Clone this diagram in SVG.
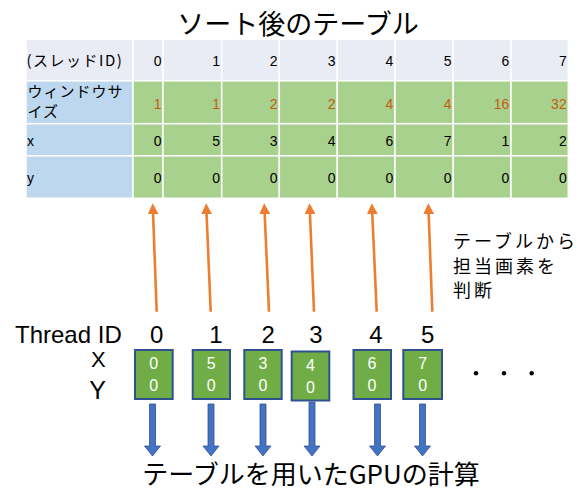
<svg xmlns="http://www.w3.org/2000/svg" width="583" height="492" viewBox="0 0 583 492">
<style>
.jp{font-family:"Noto Sans CJK JP","Noto Sans",sans-serif;fill:#000}
.num{font-family:"Liberation Sans","Noto Sans",sans-serif;font-size:14px;text-anchor:end;fill:#000}
.ws{fill:#C55A11}
.hd{fill:#E9EBF5;stroke:#fff;stroke-width:1.5}
.lb{fill:#BDD7EE;stroke:#fff;stroke-width:1.5}
.gr{fill:#A9D18E;stroke:#fff;stroke-width:1.5}
.big{font-family:"Liberation Sans","Noto Sans",sans-serif;fill:#000}
.box rect{fill:#70AD47;stroke:#2F528F;stroke-width:2}
.box text{font-family:"Liberation Sans","Noto Sans",sans-serif;font-size:16px;fill:#fff;text-anchor:middle}
.oa{stroke:#ED7D31;stroke-width:2.6;fill:none;marker-end:url(#oh)}
.ba{fill:#4472C4;stroke:#2F528F;stroke-width:0.8}
</style>
<defs>
<marker id="oh" markerUnits="userSpaceOnUse" markerWidth="11" markerHeight="11" viewBox="0 0 10 10" refX="2" refY="5" orient="auto">
<path d="M0,0 L10,5 L0,10 z" fill="#ED7D31"/>
</marker>
</defs>
<rect width="583" height="492" fill="#fff"/>
<text id="title" class="jp" x="298" y="34" font-size="27" text-anchor="middle">ソート後のテーブル</text>

<g id="table">
<rect class="hd" x="26" y="39.3" width="107" height="41.5"/>
<rect class="hd" x="133" y="39.3" width="30" height="41.5"/>
<rect class="hd" x="163" y="39.3" width="58.7" height="41.5"/>
<rect class="hd" x="221.7" y="39.3" width="57.6" height="41.5"/>
<rect class="hd" x="279.3" y="39.3" width="58" height="41.5"/>
<rect class="hd" x="337.3" y="39.3" width="57.7" height="41.5"/>
<rect class="hd" x="395" y="39.3" width="58.3" height="41.5"/>
<rect class="hd" x="453.3" y="39.3" width="57.7" height="41.5"/>
<rect class="hd" x="511" y="39.3" width="57.3" height="41.5"/>

<rect class="lb" x="26" y="80.8" width="107" height="42.9"/>
<rect class="gr" x="133" y="80.8" width="30" height="42.9"/>
<rect class="gr" x="163" y="80.8" width="58.7" height="42.9"/>
<rect class="gr" x="221.7" y="80.8" width="57.6" height="42.9"/>
<rect class="gr" x="279.3" y="80.8" width="58" height="42.9"/>
<rect class="gr" x="337.3" y="80.8" width="57.7" height="42.9"/>
<rect class="gr" x="395" y="80.8" width="58.3" height="42.9"/>
<rect class="gr" x="453.3" y="80.8" width="57.7" height="42.9"/>
<rect class="gr" x="511" y="80.8" width="57.3" height="42.9"/>

<rect class="lb" x="26" y="123.7" width="107" height="32.1"/>
<rect class="gr" x="133" y="123.7" width="30" height="32.1"/>
<rect class="gr" x="163" y="123.7" width="58.7" height="32.1"/>
<rect class="gr" x="221.7" y="123.7" width="57.6" height="32.1"/>
<rect class="gr" x="279.3" y="123.7" width="58" height="32.1"/>
<rect class="gr" x="337.3" y="123.7" width="57.7" height="32.1"/>
<rect class="gr" x="395" y="123.7" width="58.3" height="32.1"/>
<rect class="gr" x="453.3" y="123.7" width="57.7" height="32.1"/>
<rect class="gr" x="511" y="123.7" width="57.3" height="32.1"/>

<rect class="lb" x="26" y="155.8" width="107" height="42.5"/>
<rect class="gr" x="133" y="155.8" width="30" height="42.5"/>
<rect class="gr" x="163" y="155.8" width="58.7" height="42.5"/>
<rect class="gr" x="221.7" y="155.8" width="57.6" height="42.5"/>
<rect class="gr" x="279.3" y="155.8" width="58" height="42.5"/>
<rect class="gr" x="337.3" y="155.8" width="57.7" height="42.5"/>
<rect class="gr" x="395" y="155.8" width="58.3" height="42.5"/>
<rect class="gr" x="453.3" y="155.8" width="57.7" height="42.5"/>
<rect class="gr" x="511" y="155.8" width="57.3" height="42.5"/>

<text class="jp" x="26.5" y="66" font-size="15" letter-spacing="1.5">(スレッドID)</text>
<text class="jp" x="27.5" y="97" font-size="15" letter-spacing="1">ウィンドウサ</text>
<text class="jp" x="27.5" y="117" font-size="15" letter-spacing="1">イズ</text>
<text class="num" x="27" y="146" style="text-anchor:start">x</text>
<text class="num" x="27" y="183" style="text-anchor:start">y</text>

<g>
<text class="num" x="161.5" y="65.5">0</text>
<text class="num" x="220" y="65.5">1</text>
<text class="num" x="277.5" y="65.5">2</text>
<text class="num" x="335.5" y="65.5">3</text>
<text class="num" x="393.3" y="65.5">4</text>
<text class="num" x="451.5" y="65.5">5</text>
<text class="num" x="509.3" y="65.5">6</text>
<text class="num" x="566.7" y="65.5">7</text>
</g>
<g>
<text class="num ws" x="161.5" y="109">1</text>
<text class="num ws" x="220" y="109">1</text>
<text class="num ws" x="277.5" y="109">2</text>
<text class="num ws" x="335.5" y="109">2</text>
<text class="num ws" x="393.3" y="109">4</text>
<text class="num ws" x="451.5" y="109">4</text>
<text class="num ws" x="509.3" y="109">16</text>
<text class="num ws" x="566.7" y="109">32</text>
</g>
<g>
<text class="num" x="161.5" y="146">0</text>
<text class="num" x="220" y="146">5</text>
<text class="num" x="277.5" y="146">3</text>
<text class="num" x="335.5" y="146">4</text>
<text class="num" x="393.3" y="146">6</text>
<text class="num" x="451.5" y="146">7</text>
<text class="num" x="509.3" y="146">1</text>
<text class="num" x="566.7" y="146">2</text>
</g>
<g>
<text class="num" x="161.5" y="183">0</text>
<text class="num" x="220" y="183">0</text>
<text class="num" x="277.5" y="183">0</text>
<text class="num" x="335.5" y="183">0</text>
<text class="num" x="393.3" y="183">0</text>
<text class="num" x="451.5" y="183">0</text>
<text class="num" x="509.3" y="183">0</text>
<text class="num" x="566.7" y="183">0</text>
</g>
</g>

<g id="connectors">
<line class="oa" x1="156.7" y1="311.7" x2="153" y2="212"/>
<line class="oa" x1="210.7" y1="311.7" x2="206.5" y2="212"/>
<line class="oa" x1="269" y1="311.7" x2="264.6" y2="212"/>
<line class="oa" x1="314" y1="311.7" x2="309.9" y2="212"/>
<line class="oa" x1="376.7" y1="311.7" x2="372.2" y2="212"/>
<line class="oa" x1="432.3" y1="311.7" x2="428.6" y2="212"/>

<polygon class="ba" points="149.5,404 155.5,404 155.5,446 160.5,446 152.5,456 144.5,446 149.5,446"/>
<polygon class="ba" points="208,404 214,404 214,446 219,446 211,456 203,446 208,446"/>
<polygon class="ba" points="260,404 266,404 266,446 271,446 263,456 255,446 260,446"/>
<polygon class="ba" points="309,402 315,402 315,446 320,446 312,456 304,446 309,446"/>
<polygon class="ba" points="374.5,404 380.5,404 380.5,446 385.5,446 377.5,456 369.5,446 374.5,446"/>
<polygon class="ba" points="419.5,404 425.5,404 425.5,446 430.5,446 422.5,456 414.5,446 419.5,446"/>
</g>

<text id="note" class="jp" font-size="18" letter-spacing="3"><tspan x="453" y="248">テーブルから</tspan><tspan x="453" y="273">担当画素を</tspan><tspan x="453" y="297">判断</tspan></text>

<g id="labels">
<text class="big" x="15" y="343" font-size="24">Thread ID</text>
<text class="big" x="98.3" y="367" font-size="22" text-anchor="middle">X</text>
<text class="big" x="97.5" y="399" font-size="25" text-anchor="middle">Y</text>
<text class="big" x="156.7" y="343" font-size="24" text-anchor="middle">0</text>
<text class="big" x="216" y="343" font-size="24" text-anchor="middle">1</text>
<text class="big" x="268.3" y="343" font-size="24" text-anchor="middle">2</text>
<text class="big" x="316" y="343" font-size="24" text-anchor="middle">3</text>
<text class="big" x="376" y="343" font-size="24" text-anchor="middle">4</text>
<text class="big" x="427.7" y="343" font-size="24" text-anchor="middle">5</text>
</g>

<g id="thread0" class="box"><rect x="135" y="350" width="37.7" height="49"/><text x="153.8" y="369">0</text><text x="153.8" y="391">0</text></g>
<g id="thread1" class="box"><rect x="192.7" y="350" width="37.3" height="49"/><text x="211.3" y="369">5</text><text x="211.3" y="391">0</text></g>
<g id="thread2" class="box"><rect x="244.3" y="350" width="37.4" height="49"/><text x="263" y="369">3</text><text x="263" y="391">0</text></g>
<g id="thread3" class="box"><rect x="291.7" y="351.5" width="37.6" height="49"/><text x="310.5" y="371">4</text><text x="310.5" y="393">0</text></g>
<g id="thread4" class="box"><rect x="353.5" y="350" width="37.5" height="49"/><text x="372" y="369">6</text><text x="372" y="391">0</text></g>
<g id="thread5" class="box"><rect x="403.3" y="350" width="38.7" height="49"/><text x="422.6" y="369">7</text><text x="422.6" y="391">0</text></g>

<g id="dots" fill="#000">
<circle cx="476" cy="373.3" r="2.2"/>
<circle cx="504" cy="373.3" r="2.2"/>
<circle cx="531.7" cy="373.3" r="2.2"/>
</g>

<text id="bottom" class="jp" x="311" y="484" font-size="26" text-anchor="middle">テーブルを用いたGPUの計算</text>
</svg>
